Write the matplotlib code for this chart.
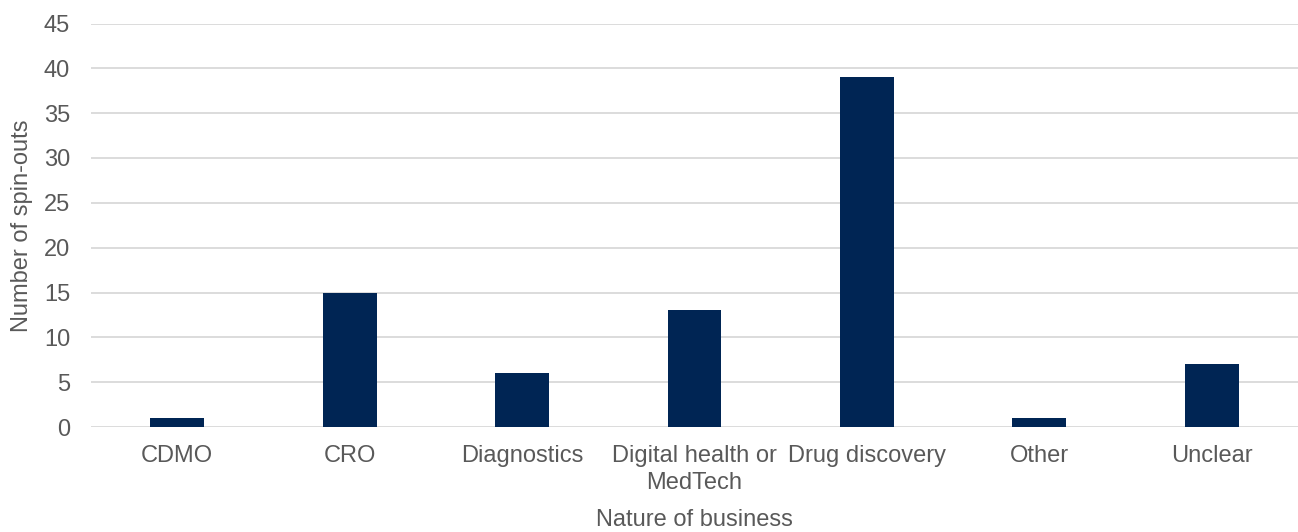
import matplotlib.pyplot as plt

plt.rcParams['font.family'] = ['Liberation Sans', 'DejaVu Sans']

categories = ['CDMO', 'CRO', 'Diagnostics', 'Digital health or\nMedTech',
              'Drug discovery', 'Other', 'Unclear']
counts = [1, 15, 6, 13, 39, 1, 7]
yticks = [0, 5, 10, 15, 20, 25, 30, 35, 40, 45]

text_color = '#595959'

fig = plt.figure(figsize=(12.98, 5.32), dpi=100)
ax = fig.add_axes([91 / 1298, 1 - 427 / 532, 1 - 91 / 1298, (427 - 23.5) / 532])

x = range(len(categories))
ax.bar(x, counts, width=0.313, color='#002554', zorder=3)

ax.set_xlim(-0.5, len(categories) - 0.5)
ax.set_ylim(0, 45)
ax.set_yticks(yticks)
ax.set_xticks(list(x))
ax.set_xticklabels(categories, fontsize=17, color=text_color, linespacing=1.3)
ax.tick_params(axis='y', labelsize=17, labelcolor=text_color, length=0, pad=15)
ax.tick_params(axis='x', length=0, pad=13)

ax.grid(axis='y', color='#d9d9d9', linewidth=1.3, zorder=0)
for s in ax.spines.values():
    s.set_visible(False)

ax.set_xlabel('Nature of business', fontsize=17, color=text_color, labelpad=11)
ax.set_ylabel('Number of spin-outs', fontsize=17, color=text_color, labelpad=8)

fig.savefig('out.png', dpi=100)
